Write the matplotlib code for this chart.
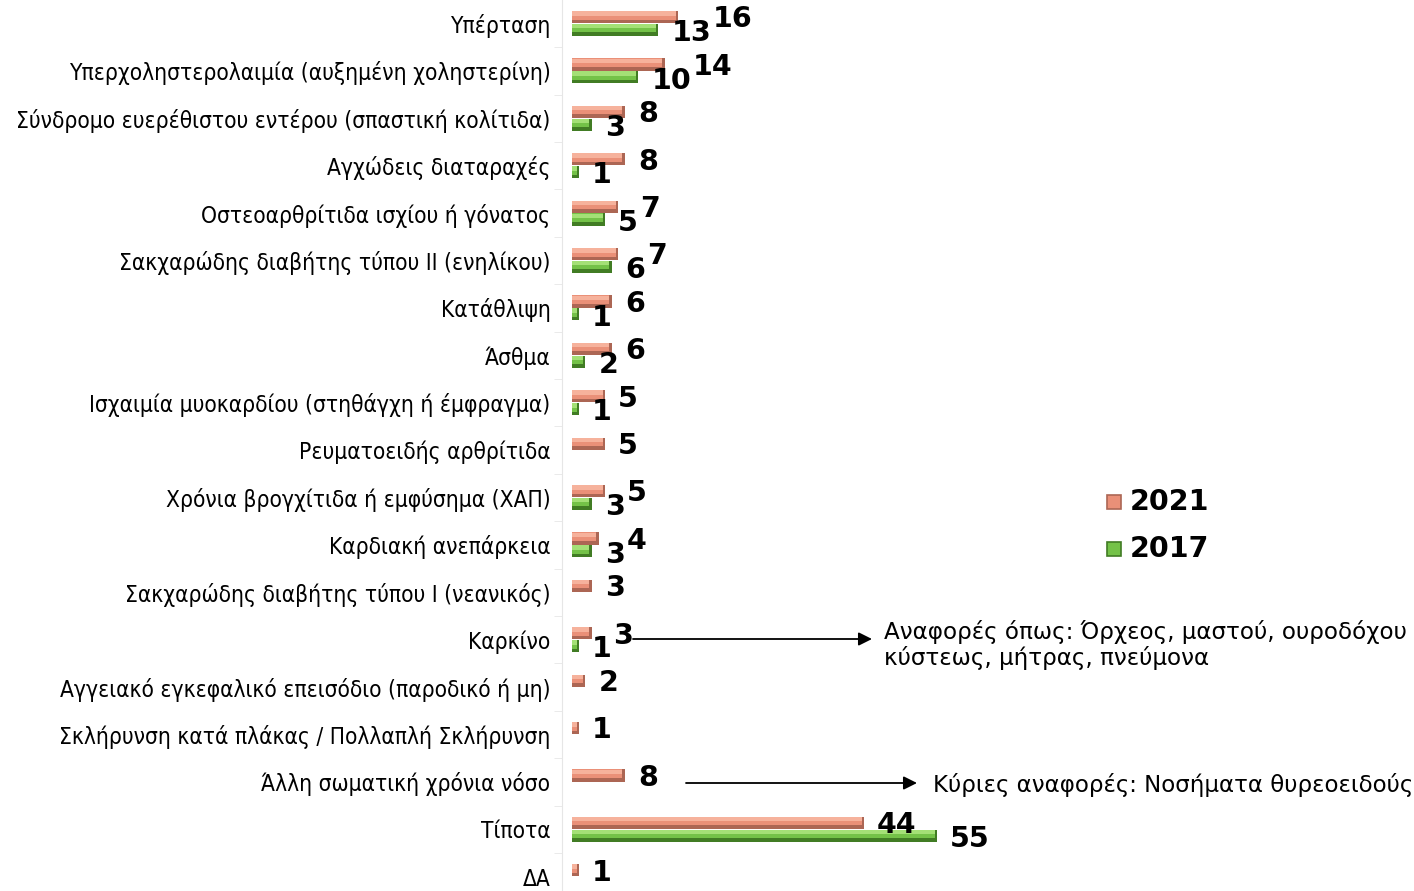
import matplotlib
matplotlib.use("Agg")
import matplotlib.pyplot as plt
import numpy as np

plt.rcParams['font.family'] = ['DejaVu Sans']

categories = [
    "Υπέρταση",
    "Υπερχοληστερολαιμία (αυξημένη χοληστερίνη)",
    "Σύνδρομο ευερέθιστου εντέρου (σπαστική κολίτιδα)",
    "Αγχώδεις διαταραχές",
    "Οστεοαρθρίτιδα ισχίου ή γόνατος",
    "Σακχαρώδης διαβήτης τύπου ΙΙ (ενηλίκου)",
    "Κατάθλιψη",
    "Άσθμα",
    "Ισχαιμία μυοκαρδίου (στηθάγχη ή έμφραγμα)",
    "Ρευματοειδής αρθρίτιδα",
    "Χρόνια βρογχίτιδα ή εμφύσημα (ΧΑΠ)",
    "Καρδιακή ανεπάρκεια",
    "Σακχαρώδης διαβήτης τύπου Ι (νεανικός)",
    "Καρκίνο",
    "Αγγειακό εγκεφαλικό επεισόδιο (παροδικό ή μη)",
    "Σκλήρυνση κατά πλάκας / Πολλαπλή Σκλήρυνση",
    "Άλλη σωματική χρόνια νόσο",
    "Τίποτα",
    "ΔΑ",
]
values_2021 = [16, 14, 8, 8, 7, 7, 6, 6, 5, 5, 5, 4, 3, 3, 2, 1, 8, 44, 1]
values_2017 = [13, 10, 3, 1, 5, 6, 1, 2, 1, None, 3, 3, None, 1, None, None, None, 55, None]
series_names = ["2021", "2017"]

note_cancer = "Αναφορές όπως: Όρχεος, μαστού, ουροδόχου\nκύστεως, μήτρας, πνεύμονα"
note_other = "Κύριες αναφορές: Νοσήματα θυρεοειδούς"

# colours: (face, highlight, shade)
col_2021 = ("#EA9078", "#F6B29C", "#AC6654")
col_2017 = ("#74C248", "#A4E076", "#417C24")

W, H, DPI = 1414, 891, 100
fig = plt.figure(figsize=(W / DPI, H / DPI), dpi=DPI)
ax = fig.add_axes([572 / W, 0, (W - 572) / W, 1])

n = len(categories)
ypos = np.arange(n)
bar_h = 0.26
off = 0.135
row_px = 47.4
top_px = 23.5


def bevel_bar(y, v, cols):
    face, hi, sh = cols
    ax.barh(y, v, height=bar_h, color=face, linewidth=0, zorder=2)
    ax.barh(y - bar_h * 0.30, v, height=bar_h * 0.36, color=hi, linewidth=0, zorder=3)
    ax.barh(y + bar_h * 0.35, v, height=bar_h * 0.30, color=sh, linewidth=0, zorder=3)
    cap = min(0.4, v * 0.3)
    ax.barh(y, cap, left=v - cap, height=bar_h, color=sh, linewidth=0, zorder=4)


for i in range(n):
    if values_2021[i] is not None:
        bevel_bar(ypos[i] - off, values_2021[i], col_2021)
    if values_2017[i] is not None:
        bevel_bar(ypos[i] + off, values_2017[i], col_2017)

# axis styling
for s in ["top", "right", "bottom"]:
    ax.spines[s].set_visible(False)
ax.spines["left"].set_color("#E6E6E6")
ax.spines["left"].set_position(("outward", 7))
ax.set_xticks([])
ax.set_yticks(ypos)
ax.set_yticklabels(categories, fontsize=16.3, fontstretch="condensed")
ax.tick_params(axis="y", which="major", length=0, pad=8.5)
ax.set_yticks(np.arange(-0.5, n, 1.0), minor=True)
ax.tick_params(axis="y", which="minor", length=6, color="#E6E6E6", direction="out")

ax.set_xlim(0, (W - 572) / 6.64)
ax.set_ylim((H - top_px) / row_px, -top_px / row_px)

# value labels
lab_kw = dict(fontsize=20.5, fontweight="bold", color="black", va="center", ha="left", zorder=6)
fig.canvas.draw()
renderer = fig.canvas.get_renderer()
px = 13
for i in range(n):
    box17 = None
    if values_2017[i] is not None:
        v = values_2017[i]
        x0 = ax.transData.transform((v, 0))[0] + px
        xd = ax.transData.inverted().transform((x0, 0))[0]
        t = ax.text(xd, ypos[i] + off + 0.07, str(v), **lab_kw)
        box17 = t.get_window_extent(renderer)
    if values_2021[i] is not None:
        v = values_2021[i]
        x0 = ax.transData.transform((v, 0))[0] + px
        xd = ax.transData.inverted().transform((x0, 0))[0]
        t = ax.text(xd, ypos[i] - off + 0.05, str(v), **lab_kw)
        if box17 is not None:
            b = t.get_window_extent(renderer)
            if box17.x0 < b.x1 and box17.x1 > b.x0:
                x0 = box17.x1 + 2
                t.set_x(ax.transData.inverted().transform((x0, 0))[0])

# legend, drawn as swatches with bold labels
leg_rows = [(series_names[0], col_2021, 502), (series_names[1], col_2017, 549)]
for name, cols, yc in leg_rows:
    fig.patches.append(plt.Rectangle((1107 / W, 1 - (yc + 7) / H), 14 / W, 14 / H,
                                     transform=fig.transFigure, facecolor=cols[0],
                                     edgecolor=cols[2], linewidth=1.2))
    fig.text(1130 / W, 1 - yc / H, name, fontsize=20.5, fontweight="bold",
             va="center", ha="left")

# notes with arrows
ax.annotate("", xy=(872 / W, 1 - 639 / H), xycoords="figure fraction",
            xytext=(633 / W, 1 - 639 / H), textcoords="figure fraction",
            arrowprops=dict(arrowstyle="-|>", color="black", lw=1.3, mutation_scale=20,
                            shrinkA=0, shrinkB=0))
fig.text(884 / W, 1 - 645 / H, note_cancer, fontsize=16.6, va="center", ha="left",
         linespacing=1.12)
ax.annotate("", xy=(917 / W, 1 - 783 / H), xycoords="figure fraction",
            xytext=(686 / W, 1 - 783 / H), textcoords="figure fraction",
            arrowprops=dict(arrowstyle="-|>", color="black", lw=1.3, mutation_scale=20,
                            shrinkA=0, shrinkB=0))
fig.text(933 / W, 1 - 785 / H, note_other, fontsize=16.5, va="center", ha="left")

fig.savefig("out.png", dpi=DPI)
